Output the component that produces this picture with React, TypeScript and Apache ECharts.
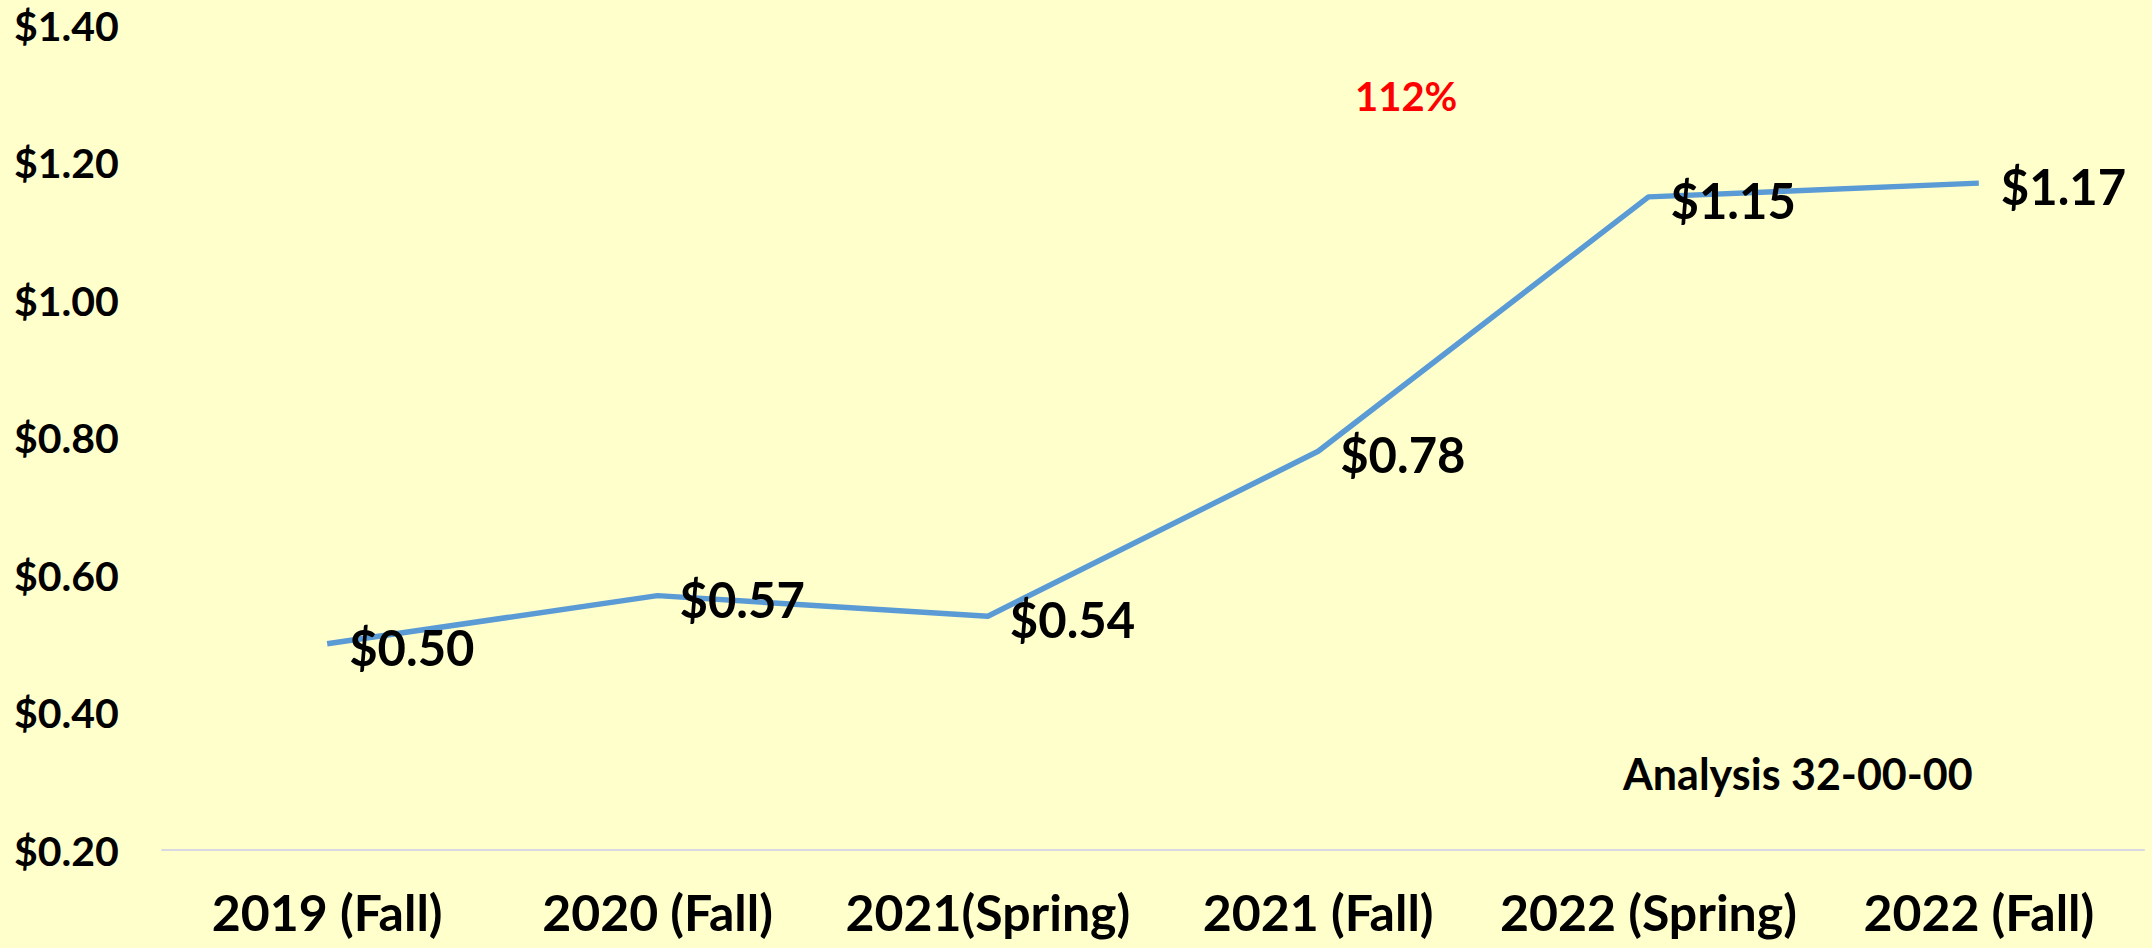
import React, { useEffect, useRef } from "react";
import * as echarts from "echarts";

const categories = ["2019 (Fall)", "2020 (Fall)", "2021(Spring)", "2021 (Fall)", "2022 (Spring)", "2022 (Fall)"];
const prices = [0.5, 0.57, 0.54, 0.78, 1.15, 1.17];
const yMin = 0.2;
const yMax = 1.4;
const yInterval = 0.2;
const changeNote = "112%";
const sourceNote = "Analysis 32-00-00";

const FONT = "Lato, 'Noto Sans', sans-serif";

export default function App() {
  const ref = useRef<HTMLDivElement>(null);
  useEffect(() => {
    if (!ref.current) return;
    const chart = echarts.init(ref.current, null, { renderer: "svg" });
    chart.setOption({
      animation: false,
      backgroundColor: "#FFFFCC",
      grid: { left: 162, right: 8, top: 25, bottom: 98, containLabel: false },
      xAxis: {
        type: "category",
        data: categories,
        boundaryGap: true,
        axisLine: { show: true, lineStyle: { color: "#D9D9E3", width: 2 } },
        axisTick: { show: false },
        axisLabel: {
          color: "#000",
          fontFamily: FONT,
          fontWeight: "bold",
          fontSize: 50,
          margin: 37,
          interval: 0,
        },
      },
      yAxis: {
        type: "value",
        min: yMin,
        max: yMax,
        interval: yInterval,
        axisLine: { show: false },
        axisTick: { show: false },
        splitLine: { show: false },
        axisLabel: {
          color: "#000",
          fontFamily: FONT,
          fontWeight: "bold",
          fontSize: 41,
          align: "left",
          margin: 148,
          formatter: (v: number) => "$" + v.toFixed(2),
        },
      },
      series: [
        {
          type: "line",
          data: prices,
          symbol: "circle",
          symbolSize: 0,
          showSymbol: true,
          itemStyle: { color: "#5B9BD5" },
          lineStyle: { color: "#5B9BD5", width: 5.5 },
          label: {
            show: true,
            position: "right",
            distance: 22,
            color: "#000",
            fontFamily: FONT,
            fontWeight: "bold",
            fontSize: 49,
            offset: [0, 3],
            formatter: (p: any) => "$" + Number(p.value).toFixed(2),
          },
        },
      ],
      graphic: [
        {
          type: "text",
          left: 1355,
          top: 76,
          style: {
            text: changeNote,
            fill: "#FF0000",
            font: `bold 40px ${FONT}`,
          },
        },
        {
          type: "text",
          left: 1623,
          top: 752,
          style: {
            text: sourceNote,
            fill: "#000",
            font: `bold 43px ${FONT}`,
          },
        },
      ],
    });
    return () => chart.dispose();
  }, []);
  return (
    <div
      ref={ref}
      style={{ position: "fixed", left: 0, top: 0, width: 2152, height: 948 }}
    />
  );
}
